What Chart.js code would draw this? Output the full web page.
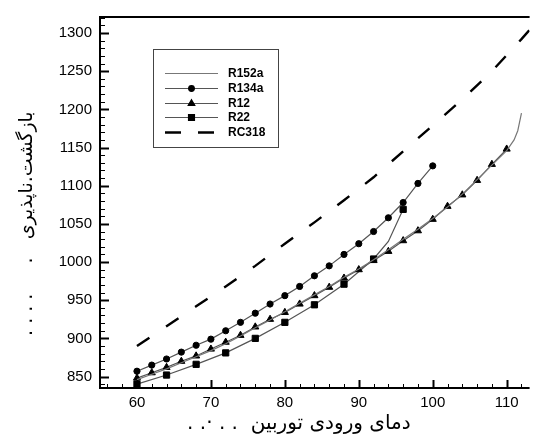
<!DOCTYPE html>
<html><head><meta charset="utf-8">
<script src="https://cdn.jsdelivr.net/npm/chart.js@4/dist/chart.umd.min.js"></script>
<style>html,body{margin:0;padding:0;background:#fff;overflow:hidden}#wrap{width:535px;height:435px}</style>
</head><body><div id="wrap"><canvas id="c" dir="rtl" width="535" height="435"></canvas></div>
<script>
// ---- data ----
const xTicks = [60, 70, 80, 90, 100, 110];
const yTicks = [850, 900, 950, 1000, 1050, 1100, 1150, 1200, 1250, 1300];

const xR152a = [60,62,64,66,68,70,72,74,76,78,80,82,84,86,88,90,92,94,96,98,100,102,104,106,108,110,111,111.5,112];
const yR152a = [846,853,860,868,876,884,893,903,914,924,935,946,957,968,980,991,1003,1016,1030,1043,1057,1072,1089,1108,1127,1146,1160,1172,1195];

const xR134a = [60,62,64,66,68,70,72,74,76,78,80,82,84,86,88,90,92,94,96,98,100];
const yR134a = [857,865,873,882,891,899,910,921,933,945,956,968,982,995,1010,1024,1040,1058,1078,1103,1126];

const xR12 = [60,62,64,66,68,70,72,74,76,78,80,82,84,86,88,90,92,94,96,98,100,102,104,106,108,110];
const yR12 = [848,855,862,870,877,886,895,904,915,925,934,945,956,967,979,990,1002,1014,1028,1041,1056,1073,1088,1107,1128,1148];

const xR22 = [60,64,68,72,76,80,84,88,92,94,96];
const yR22 = [840,852,866,881,900,921,944,971,1004,1027,1069];

const xRC318 = [60,64,68,72,76,80,84,88,92,96,100,104,108,112,114];
const yRC318 = [890,916,942,968,995,1024,1052,1081,1111,1145,1179,1213,1250,1292,1314];

const seriesNames = ['R152a','R134a','R12','R22','RC318'];
const xTitle = '     دمای ورودی توربین  . . ·. .';
const yTitle = '       بازگشت.ناپذیری   .     . . . .';

const pts = (xs, ys) => xs.map((v, i) => ({x: v, y: ys[i]}));
const LINE = '#555';

// ---- plugins ----
const frame = {
  id: 'frame',
  afterDatasetsDraw(chart) {
    const {ctx, chartArea: {left, top, right, bottom}, scales: {x, y}} = chart;
    ctx.save();
    ctx.strokeStyle = '#000';
    const seg = (x0, y0, x1, y1, w) => { ctx.lineWidth = w; ctx.beginPath(); ctx.moveTo(x0, y0); ctx.lineTo(x1, y1); ctx.stroke(); };
    for (let v = 56; v <= x.max; v += 2) {
      const p = Math.round(x.getPixelForValue(v)) + 0.5;
      const major = v % 10 === 0;
      seg(p, bottom, p, bottom - (major ? 8 : 4), major ? 2 : 1);
    }
    for (let v = 840; v <= y.max; v += 10) {
      const p = Math.round(y.getPixelForValue(v)) + 0.5;
      const major = v % 50 === 0;
      seg(left, p, left + (major ? 9 : 5), p, major ? 2 : 1);
    }
    seg(left, top, left, bottom + 1, 2);
    seg(left - 1, bottom, right, bottom, 2);
    seg(left - 1, top, right, top, 2);
    ctx.restore();
  }
};

const boxLegend = {
  id: 'boxLegend',
  afterDraw(chart) {
    const o = chart.options.plugins.boxLegend;
    const ctx = chart.ctx;
    ctx.save();
    ctx.fillStyle = '#fff';
    ctx.fillRect(o.x, o.y, o.w, o.h);
    ctx.strokeStyle = '#444'; ctx.lineWidth = 1;
    ctx.strokeRect(o.x + 0.5, o.y + 0.5, o.w, o.h);
    chart.data.datasets.forEach((ds, i) => {
      const yy = Math.round(o.y + o.row0 + i * o.rowGap) + 0.5;
      ctx.strokeStyle = ds.borderColor;
      ctx.lineWidth = ds.borderWidth;
      ctx.setLineDash(ds.legendDash || []);
      ctx.beginPath(); ctx.moveTo(o.x + o.l0, yy); ctx.lineTo(o.x + o.l1, yy); ctx.stroke();
      ctx.setLineDash([]);
      if (ds.legendRadius) {
        ctx.fillStyle = '#000'; ctx.strokeStyle = '#000';
        Chart.helpers.drawPoint(ctx, {pointStyle: ds.pointStyle, radius: ds.legendRadius, borderWidth: 1, rotation: 0}, o.x + (o.l0 + o.l1) / 2, yy);
        ctx.fill();
      }
      ctx.fillStyle = '#000';
      ctx.font = 'bold 12px "Liberation Sans", Arial, sans-serif';
      ctx.textAlign = 'left'; ctx.textBaseline = 'middle';
      ctx.fillText(ds.label, o.x + o.tx, yy);
    });
    ctx.restore();
  }
};

const common = {borderColor: LINE, borderWidth: 1.2, pointBackgroundColor: '#000', pointBorderColor: '#000', pointBorderWidth: 1, tension: 0, fill: false};

new Chart(document.getElementById('c'), {
  type: 'line',
  data: {
    datasets: [
      Object.assign({}, common, {label: seriesNames[0], data: pts(xR152a, yR152a), pointRadius: 0, borderColor: '#777'}),
      Object.assign({}, common, {label: seriesNames[1], data: pts(xR134a, yR134a), pointStyle: 'circle', pointRadius: 3.1, legendRadius: 2.8}),
      Object.assign({}, common, {label: seriesNames[2], data: pts(xR12, yR12), pointStyle: 'triangle', pointRadius: 4.1, legendRadius: 3.8}),
      Object.assign({}, common, {label: seriesNames[3], data: pts(xR22, yR22), pointStyle: 'rect',
        pointRadius: c => (xR22[c.dataIndex] % 4 === 0 ? 4.4 : 0), legendRadius: 4.2}),
      Object.assign({}, common, {label: seriesNames[4], data: pts(xRC318, yRC318), pointRadius: 0, borderColor: '#000', borderWidth: 2.4, borderDash: [15, 20], legendDash: [16, 17]})
    ]
  },
  options: {
    responsive: false, animation: false, devicePixelRatio: 1,
    layout: {padding: {left: 0, top: 13, right: 0, bottom: 0}},
    plugins: {
      legend: {display: false}, tooltip: {enabled: false},
      boxLegend: {x: 153, y: 49, w: 125, h: 98, row0: 24, rowGap: 14.8, l0: 12, l1: 65, tx: 75}
    },
    scales: {
      x: {
        type: 'linear', min: 55, max: 113.1,
        grid: {display: false, drawTicks: false}, border: {display: false},
        afterBuildTicks: s => { s.ticks = xTicks.map(v => ({value: v})); },
        afterFit: s => { s.height = 47; },
        ticks: {autoSkip: false, maxRotation: 0, padding: 6, color: '#000', callback: v => String(v), font: {family: '"Liberation Sans", Arial, sans-serif', size: 15}},
        title: {display: true, text: xTitle, color: '#000', padding: {top: 0, bottom: -1}, font: {family: '"DejaVu Sans", sans-serif', size: 20}}
      },
      y: {
        type: 'linear', min: 835, max: 1321,
        grid: {display: false, drawTicks: false}, border: {display: false},
        afterBuildTicks: s => { s.ticks = yTicks.map(v => ({value: v})); },
        afterFit: s => { s.width = 100; },
        ticks: {autoSkip: false, padding: 8, color: '#000', callback: v => String(v), font: {family: '"Liberation Sans", Arial, sans-serif', size: 15}},
        title: {display: true, text: yTitle, color: '#000', padding: {top: 16, bottom: 0}, font: {family: '"DejaVu Sans", sans-serif', size: 19}}
      }
    }
  },
  plugins: [frame, boxLegend]
});
</script></body></html>
